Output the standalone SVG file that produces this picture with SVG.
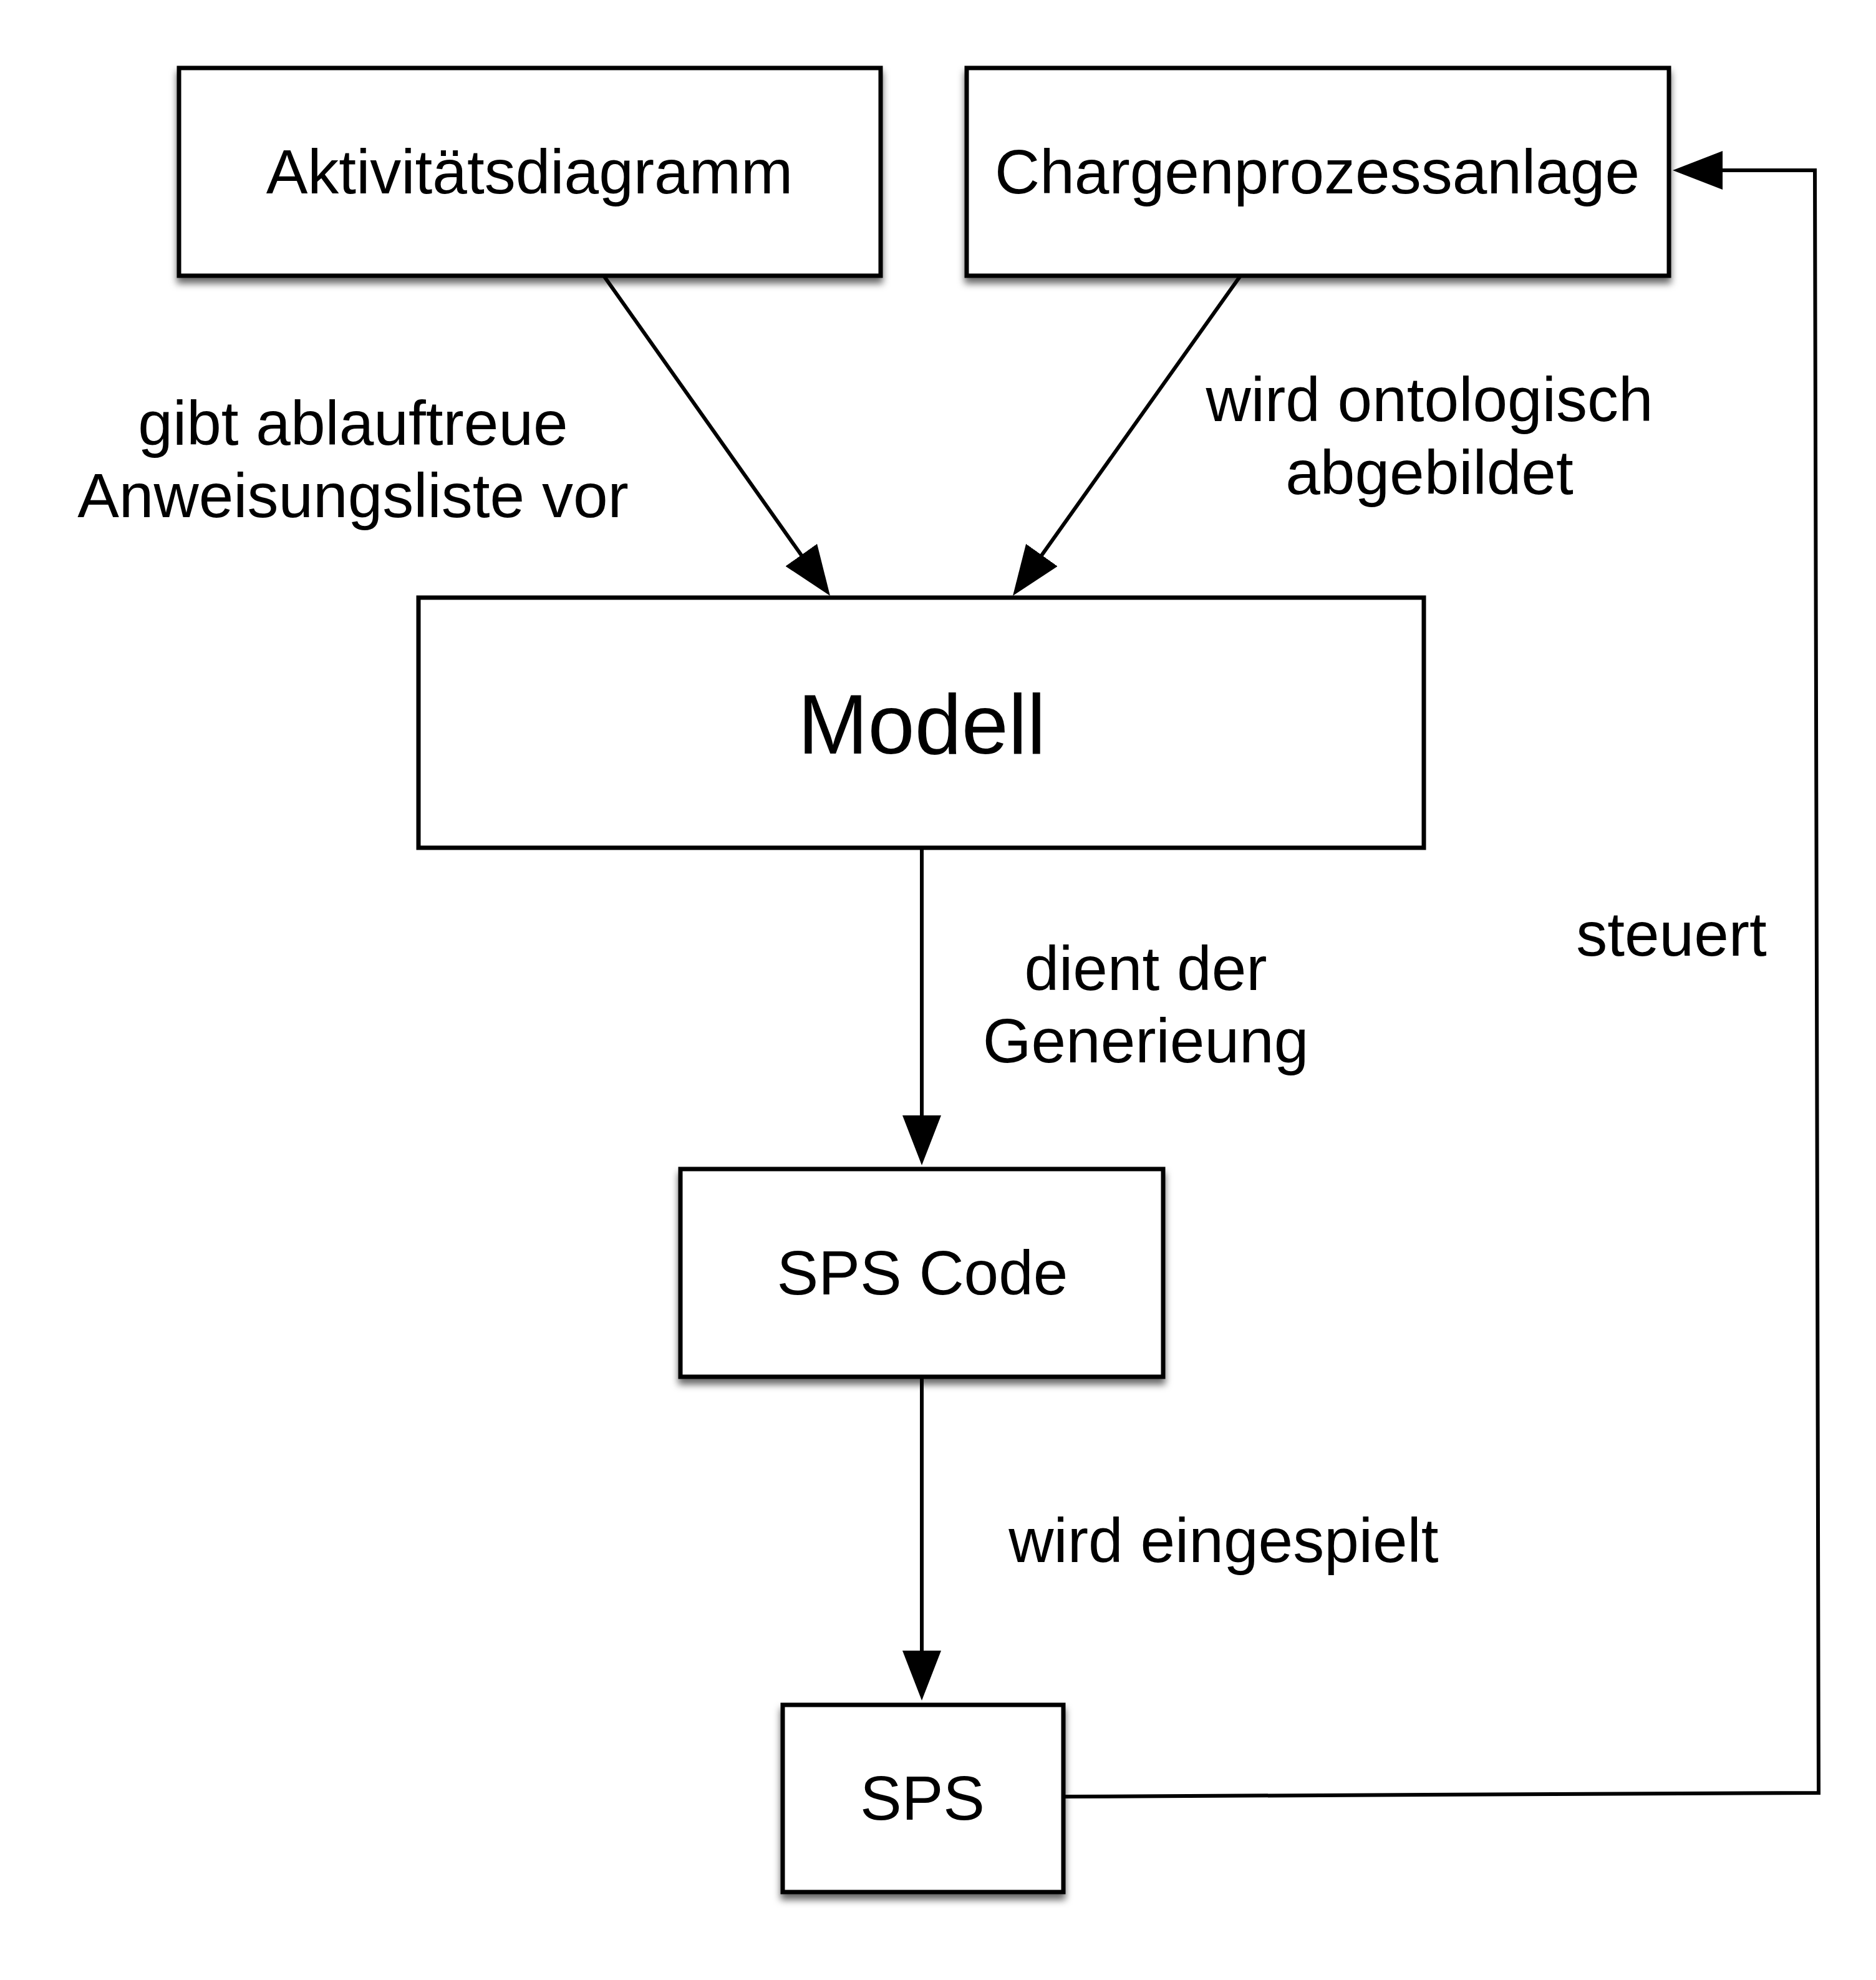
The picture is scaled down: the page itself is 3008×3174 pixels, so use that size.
<svg xmlns="http://www.w3.org/2000/svg" width="3008" height="3174" viewBox="0 0 3008 3174">
<style>
.box{fill:#fff;stroke:#000;stroke-width:7}
.lbl{font-family:"Liberation Sans",Arial,Helvetica,sans-serif;font-size:100px;fill:#000;text-anchor:middle}
.big{font-size:135px}
.conn{fill:none;stroke:#000;stroke-width:6;marker-end:url(#arrow)}
</style>
<defs>
<filter id="shadow" x="-10%" y="-10%" width="120%" height="130%">
<feDropShadow dx="0" dy="9" stdDeviation="6" flood-color="#000" flood-opacity="0.6"/>
</filter>
<marker id="arrow" viewBox="0 0 80 62" refX="60" refY="31" markerWidth="80" markerHeight="62" markerUnits="userSpaceOnUse" orient="auto">
<path d="M0,0 L80,31 L0,62 Z" fill="#000"/>
</marker>
</defs>
<rect width="3008" height="3174" fill="#fff"/>
<g id="connectors">
<path class="conn" d="M968,442 L1319.4,938.7"/>
<path class="conn" d="M1989,442 L1635.6,938.7"/>
<path class="conn" d="M1478,1359 L1478,1848"/>
<path class="conn" d="M1478,2207 L1478,2706"/>
<path class="conn" d="M1706,2880 L2916,2874 L2910,273 L2702,273"/>
<text class="lbl" x="566" y="713">gibt ablauftreue</text>
<text class="lbl" x="566" y="829">Anweisungsliste vor</text>
<text class="lbl" x="2292" y="675">wird ontologisch</text>
<text class="lbl" x="2292" y="792">abgebildet</text>
<text class="lbl" x="1837" y="1587">dient der</text>
<text class="lbl" x="1837" y="1703">Generieung</text>
<text class="lbl" x="2680" y="1532">steuert</text>
<text class="lbl" x="1962" y="2504">wird eingespielt</text>
</g>
<g id="aktivitaetsdiagramm">
<rect class="box" x="287" y="109" width="1125" height="333" filter="url(#shadow)"/>
<text class="lbl" x="849" y="310">Aktivitätsdiagramm</text>
</g>
<g id="chargenprozessanlage">
<rect class="box" x="1550" y="109" width="1126" height="333" filter="url(#shadow)"/>
<text class="lbl" x="2112" y="310">Chargenprozessanlage</text>
</g>
<g id="modell">
<rect class="box" x="671" y="958" width="1612" height="401"/>
<text class="lbl big" x="1478" y="1208">Modell</text>
</g>
<g id="sps-code">
<rect class="box" x="1091" y="1874" width="774" height="333" filter="url(#shadow)"/>
<text class="lbl" x="1479" y="2075">SPS Code</text>
</g>
<g id="sps">
<rect class="box" x="1255" y="2733" width="450" height="300" filter="url(#shadow)"/>
<text class="lbl" x="1479" y="2917">SPS</text>
</g>
</svg>
